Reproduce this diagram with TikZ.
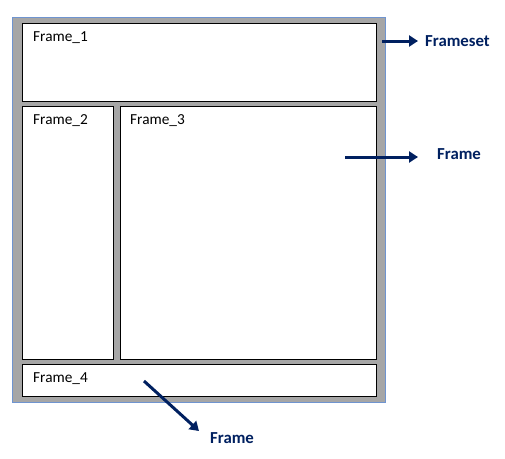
\documentclass[tikz,border=0pt]{standalone}
\usepackage{fontspec}
\setmainfont{Carlito}
\usetikzlibrary{arrows.meta,positioning}
\definecolor{setgray}{HTML}{A6A6A6}
\definecolor{setblue}{HTML}{6F94D0}
\definecolor{navy}{HTML}{002060}

\begin{document}
\begin{tikzpicture}[x=1pt, y=-1pt,
    framebox/.style={draw=black, fill=white, line width=1.1pt, inner sep=0pt, anchor=north west},
    framename/.style={anchor=west, inner sep=0pt, font=\fontsize{15.3}{17}\selectfont},
    note/.style={anchor=west, inner sep=0pt, text=navy, font=\fontsize{16.8}{19}\selectfont\bfseries},
    pointer/.style={navy, line width=3pt, -{Triangle[length=9pt, width=11pt]}}]
    \useasboundingbox (0,0) rectangle (505,458);

    % frameset
    \draw [setblue, fill=setgray, line width=1pt] (12,17) rectangle (385,402);

    % frames
    \node [framebox, minimum width=354pt, minimum height=78pt]  (f1) at (22,23)  {};
    \node [framebox, minimum width=91pt,  minimum height=253pt] (f2) at (22,106) {};
    \node [framebox, minimum width=256pt, minimum height=253pt] (f3) at (120,106) {};
    \node [framebox, minimum width=354pt, minimum height=32pt]  (f4) at (22,364) {};

    \node [framename] (n1) at ([shift={(11,15)}]f1.north west) {Frame\_1};
    \node [framename] (n2) at ([shift={(11,15)}]f2.north west) {Frame\_2};
    \node [framename] (n3) at ([shift={(10,15)}]f3.north west) {Frame\_3};
    \node [framename] (n4) at ([shift={(11,15)}]f4.north west) {Frame\_4};

    % labels
    \node [note] (setlbl) at (425,41)  {Frameset};
    \node [note] (frlbl)  at (437,154) {Frame};
    \node [note] (botlbl) at (210,438) {Frame};

    \coordinate (s1) at (382,41);
    \coordinate (s2) at (345,157);
    \coordinate (s3) at (144,381);
    \coordinate (e3) at (199,431);

    \draw [pointer] (s1) -- ([xshift=-7pt]s1 -| setlbl.west);
    \draw [pointer] (s2) -- ([xshift=-19pt]s2 -| frlbl.west);
    \draw [pointer] (s3) -- (e3);
\end{tikzpicture}
\end{document}
